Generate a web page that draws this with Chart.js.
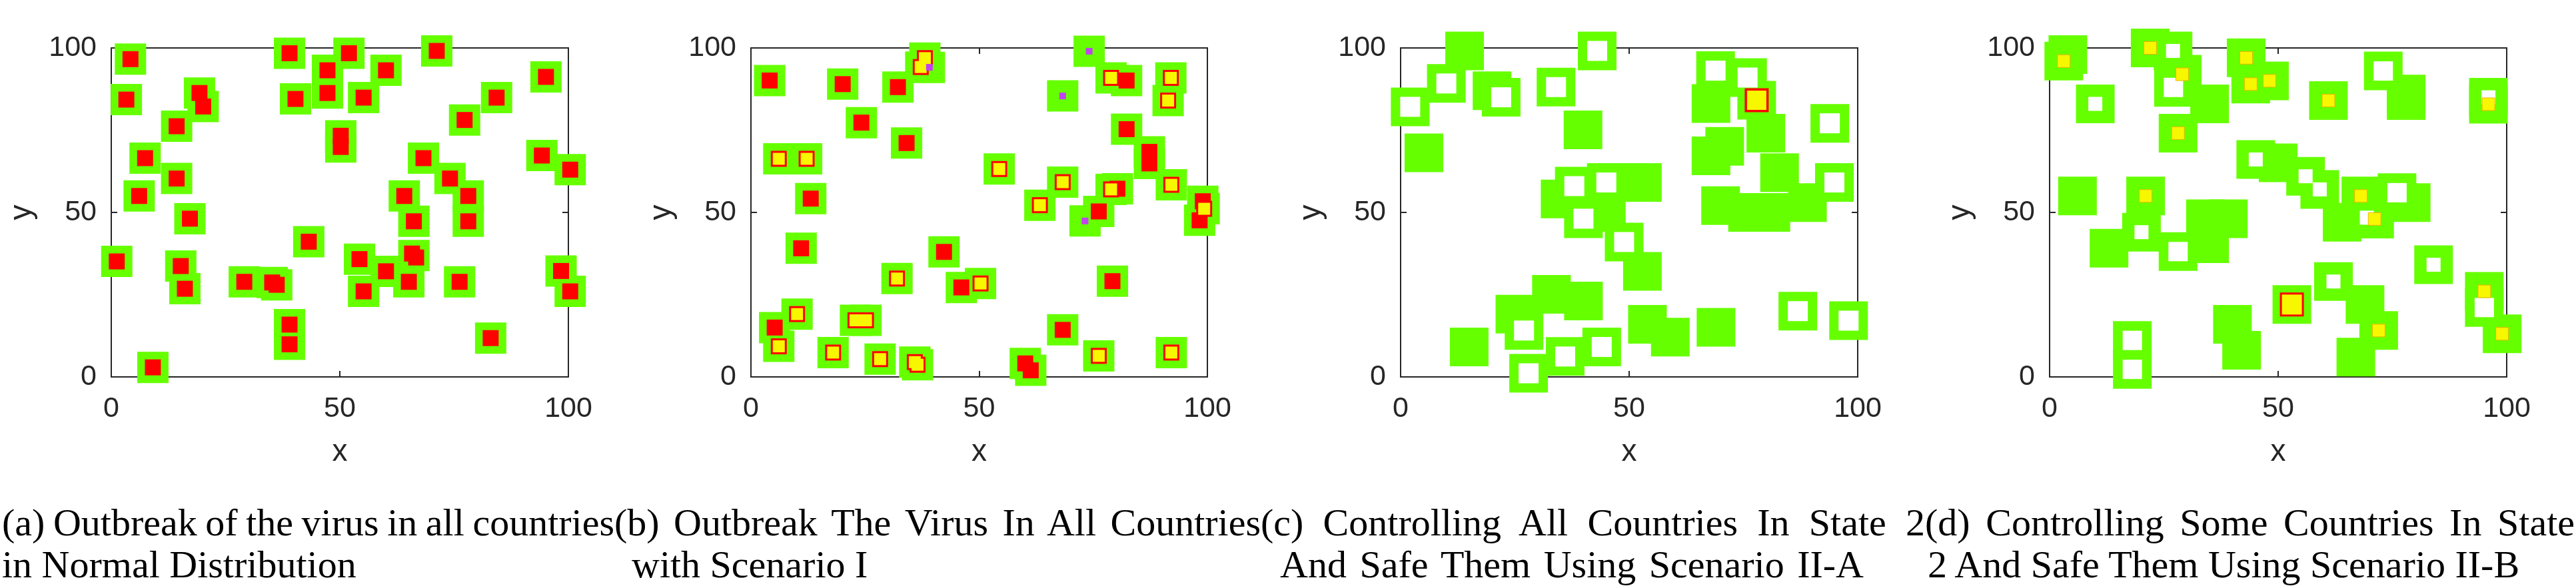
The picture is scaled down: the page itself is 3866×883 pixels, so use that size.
<!DOCTYPE html>
<html><head><meta charset="utf-8">
<script src="https://cdn.jsdelivr.net/npm/chart.js@4.4.1/dist/chart.umd.min.js"></script>
<style>
html,body{margin:0;padding:0;background:#fff;width:3866px;height:883px;overflow:hidden;position:relative}
canvas{position:absolute;top:0}
.cap{position:absolute;font-family:'Liberation Serif','Times New Roman',serif;font-size:58px;line-height:58px;white-space:nowrap;color:#000}
</style></head><body>
<script>
// ---------------- DATA ----------------
const tickValues = [0, 50, 100];
const xTitle = 'x', yTitle = 'y';

// Panel (a): every country = green square + red square
const aGreen = [[4.2,96.6],[3.3,84.3],[19.3,86.3],[20.1,82.2],[14.3,76.2],[7.4,66.5],[14.3,60.3],[6.1,55.0],[17.2,48.1],[1.2,35.1],[15.2,33.7],[16.1,26.8],[29.1,28.9],[35.2,28.7],[36.2,28.0],[39.0,98.4],[40.3,84.5],[47.3,93.2],[47.3,86.3],[52.0,98.4],[55.2,84.9],[60.1,93.2],[50.2,73.3],[50.2,69.9],[43.2,41.1],[54.3,35.8],[60.1,32.1],[55.2,26.0],[66.2,36.9],[65.1,28.9],[64.1,55.0],[66.2,47.3],[68.3,66.5],[71.2,99.1],[74.1,60.3],[78.1,55.0],[78.1,47.3],[77.3,78.1],[84.3,84.9],[76.2,28.9],[83.0,11.8],[95.1,91.2],[94.2,67.3],[100.4,63.0],[98.4,32.2],[100.4,26.0],[39.0,15.9],[39.0,9.9],[9.1,2.9]];
const aRed = [[4.2,96.6],[3.3,84.3],[19.3,86.3],[20.1,82.2],[14.3,76.2],[7.4,66.5],[14.3,60.3],[6.1,55.0],[17.2,48.1],[1.2,35.1],[15.2,33.7],[16.1,26.8],[29.1,28.9],[35.2,28.7],[36.2,28.0],[39.0,98.4],[40.3,84.5],[47.3,93.2],[47.3,86.3],[52.0,98.4],[55.2,84.9],[60.1,93.2],[50.2,73.3],[50.2,69.9],[43.2,41.1],[54.3,35.8],[60.1,32.1],[55.2,26.0],[65.8,37.5],[66.7,36.3],[65.1,28.9],[64.1,55.0],[66.2,47.3],[68.3,66.5],[71.2,99.1],[74.1,60.3],[78.1,55.0],[78.1,47.3],[77.3,78.1],[84.3,84.9],[76.2,28.9],[83.0,11.8],[95.1,91.2],[94.2,67.3],[100.4,63.0],[98.4,32.2],[100.4,26.0],[39.0,15.9],[39.0,9.9],[9.1,2.9]];

// Panel (b)
const bRedOnly = [[4.1,90.1],[20.1,89.0],[32.2,88.1],[24.2,77.3],[34.1,71.1],[13.1,54.2],[11.0,39.1],[42.3,38.0],[46.1,27.2],[5.2,15.0],[60.1,4.1],[61.3,2.0],[82.3,90.1],[82.3,75.3],[87.3,68.4],[87.3,64.9],[80.3,57.2],[76.2,50.3],[99.0,53.4],[98.3,47.6],[79.2,29.1],[68.3,14.3]];
const bYellow = [[37.2,94.2],[38.1,96.9],[6.1,66.3],[12.2,66.3],[32.0,29.9],[50.3,28.4],[10.1,19.1],[6.1,9.3],[22.9,17.2],[25.2,17.2],[18.0,7.4],[28.3,5.4],[35.9,4.5],[36.5,3.7],[54.4,63.2],[63.3,52.2],[68.3,59.2],[78.9,90.9],[92.0,90.9],[91.4,84.0],[92.1,58.4],[78.9,57.0],[99.3,51.1],[76.2,6.4],[92.1,7.4]];
const bMagenta = [[39.1,94.1],[68.3,85.4],[74.1,99.0],[73.2,47.4]];

// Panel (c)
const cFilled = [[5.1,68.1],[14.0,99.1],[20.0,87.0],[39.9,75.1],[34.9,54.1],[52.9,59.1],[45.0,50.0],[52.9,32.1],[33.0,25.1],[40.0,23.1],[25.0,19.1],[15.0,9.1],[54.0,16.0],[59.0,12.1],[69.0,15.1],[67.9,83.1],[77.9,84.1],[79.9,74.1],[70.9,70.1],[67.9,67.2],[82.9,62.1],[70.0,52.1],[75.9,50.0],[81.0,50.0],[89.0,53.0]];
const cHollow = [[2.1,82.1],[10.0,89.2],[22.0,85.0],[34.0,88.1],[43.0,99.1],[38.0,58.0],[45.0,59.1],[40.0,48.1],[48.9,41.0],[27.0,14.1],[28.0,1.1],[36.0,6.2],[44.0,9.1],[86.9,20.0],[98.0,17.1],[93.9,77.1],[94.9,59.1],[68.9,93.1],[75.9,91.0]];
const cInfected = [[77.9,84.1]];

// Panel (d)
const dFilled = [[4.0,98.0],[35.0,83.0],[78.0,86.0],[78.0,84.0],[50.0,65.1],[64.0,47.0],[79.1,53.0],[6.1,55.0],[13.0,39.1],[34.1,48.1],[39.1,48.1],[35.0,40.5],[69.0,22.0],[67.0,6.0],[40.0,16.0],[42.0,8.1]];
const dYellow = [[3.1,96.0],[22.0,100.0],[29.0,92.0],[28.1,74.1],[43.0,97.0],[44.0,89.0],[48.1,90.0],[61.0,84.0],[96.0,82.9],[68.1,55.0],[71.1,48.0],[21.0,55.0],[72.0,14.1],[95.1,26.0],[99.0,13.1]];
const dInfected = [[53.0,22.0]];
const dHollowSmall = [[10.0,83.0],[27.0,99.1],[96.0,85.0],[45.1,66.1],[56.0,61.0],[59.1,57.0],[69.4,48.4],[20.1,44.0],[62.1,29.0],[84.0,34.1]];
const dHollowLarge = [[27.1,88.0],[73.0,93.0],[76.0,56.0],[28.1,38.1],[18.1,11.1],[18.1,2.3],[95.1,21.1]];

// Captions
const capA = ['(a) Outbreak of the virus in all countries', 'in Normal Distribution'];
const capB = ['(b) Outbreak The Virus In All Countries', 'with Scenario I'];
const capC = ['(c) Controlling All Countries In State 2', 'And Safe Them Using Scenario II-A'];
const capD = ['(d) Controlling Some Countries In State', '2 And Safe Them Using Scenario II-B'];

// ---------------- STYLE / LAYOUT ----------------
const GREEN = '#66ff00', RED = '#ff0000', YELLOW = '#f7f700', MAGENTA = '#c242f2', WHITE = '#ffffff';
const AXIS = '#262626';
const LEFT = 170, RIGHT = 90, H = 720, TOP = 72, BOTTOM = 566;
const X0 = [167, 1127, 2102, 3076];
const X100 = [853, 1812, 2788, 3762];

function pts(list) { return list.map(p => ({x: p[0], y: p[1]})); }
function ds(list, side, color, order, border) {
  return {
    data: pts(list), order: order, clip: false,
    pointStyle: 'rect', pointRadius: side / Math.SQRT2, pointHoverRadius: side / Math.SQRT2,
    pointHitRadius: 0, pointBackgroundColor: color,
    pointBorderColor: border ? border[0] : color, pointBorderWidth: border ? border[1] : 0,
    pointHoverBorderWidth: border ? border[1] : 0, showLine: false
  };
}
function axis(pos, showLabels, fit) {
  const horiz = pos === 'top' || pos === 'bottom';
  const a = {
    type: 'linear', position: pos, axis: horiz ? 'x' : 'y', min: 0, max: 100,
    ticks: {display: showLabels, stepSize: 50, autoSkip: false, maxRotation: 0,
      font: {family: 'Liberation Sans', size: 43}, color: AXIS, padding: 31,
      callback: v => tickValues.includes(v) ? String(v) : ''},
    grid: {drawOnChartArea: false, drawTicks: true, tickLength: -9, color: AXIS, lineWidth: 2},
    border: {display: true, color: AXIS, width: 2},
    afterFit: fit
  };
  if (pos === 'bottom') a.title = {display: true, text: xTitle, color: AXIS, font: {family: 'Liberation Sans', size: 46}, padding: {top: 0, bottom: 13}};
  if (pos === 'left') a.title = {display: true, text: yTitle, color: AXIS, font: {family: 'Liberation Sans', size: 46}, padding: {top: 9, bottom: 0}};
  return a;
}
function panel(i, datasets) {
  const W = LEFT + (X100[i] - X0[i]) + RIGHT;
  const cv = document.createElement('canvas');
  cv.width = W; cv.height = H;
  cv.style.width = W + 'px'; cv.style.height = H + 'px';
  cv.style.left = (X0[i] - LEFT) + 'px';
  document.body.appendChild(cv);
  new Chart(cv, {
    type: 'scatter',
    data: {datasets: datasets},
    options: {
      responsive: false, animation: false, devicePixelRatio: 1, events: [],
      layout: {padding: 0},
      plugins: {legend: {display: false}, tooltip: {enabled: false}},
      scales: {
        x: axis('bottom', true, s => { s.height = H - BOTTOM; }),
        x2: axis('top', false, s => { s.height = TOP; }),
        y: axis('left', true, s => { s.width = LEFT; }),
        y2: axis('right', false, s => { s.width = RIGHT; })
      }
    }
  });
}
Chart.defaults.font.family = 'Liberation Sans';

panel(0, [ds(aGreen, 47, GREEN, 10), ds(aRed, 24, RED, 6)]);
panel(1, [
  ds(bRedOnly.concat(bYellow, bMagenta), 47, GREEN, 10),
  ds(bRedOnly.concat(bYellow), 24, RED, 6),
  ds(bYellow, 18, YELLOW, 4),
  ds(bMagenta, 10, MAGENTA, 2)
]);
panel(2, [
  ds(cFilled.concat(cHollow), 58, GREEN, 10),
  ds(cHollow, 30, WHITE, 8),
  ds(cInfected, 36, RED, 6),
  ds(cInfected, 29, YELLOW, 4)
]);
panel(3, [
  ds(dFilled.concat(dYellow, dInfected, dHollowSmall, dHollowLarge), 58, GREEN, 10),
  ds(dHollowSmall, 21, WHITE, 8),
  ds(dHollowLarge, 29, WHITE, 8),
  ds(dInfected, 36, RED, 6),
  ds(dYellow, 19, YELLOW, 4, ['#e8b400', 1]),
  ds(dInfected, 30, YELLOW, 4)
]);

// captions
const LINE1_TOP = 756, LINE2_TOP = 819;
const capLayout = [
  [capA[0], 3, 922, LINE1_TOP], [capA[1], 3, null, LINE2_TOP],
  [capB[0], 922, 1892, LINE1_TOP], [capB[1], 948, null, LINE2_TOP],
  [capC[0], 1892, 2889, LINE1_TOP], [capC[1], 1921, 2797, LINE2_TOP],
  [capD[0], 2889, 3864, LINE1_TOP], [capD[1], 2893, null, LINE2_TOP]
];
capLayout.forEach(([t, l, r, top]) => {
  const s = document.createElement('div');
  s.className = 'cap'; s.textContent = t;
  s.style.left = l + 'px'; s.style.top = top + 'px';
  document.body.appendChild(s);
  if (r !== null) {
    const nat = s.getBoundingClientRect().width;
    const n = (t.match(/ /g) || []).length;
    if (n > 0) s.style.wordSpacing = ((r - l) - nat) / n + 'px';
  }
});
</script>
</body></html>
